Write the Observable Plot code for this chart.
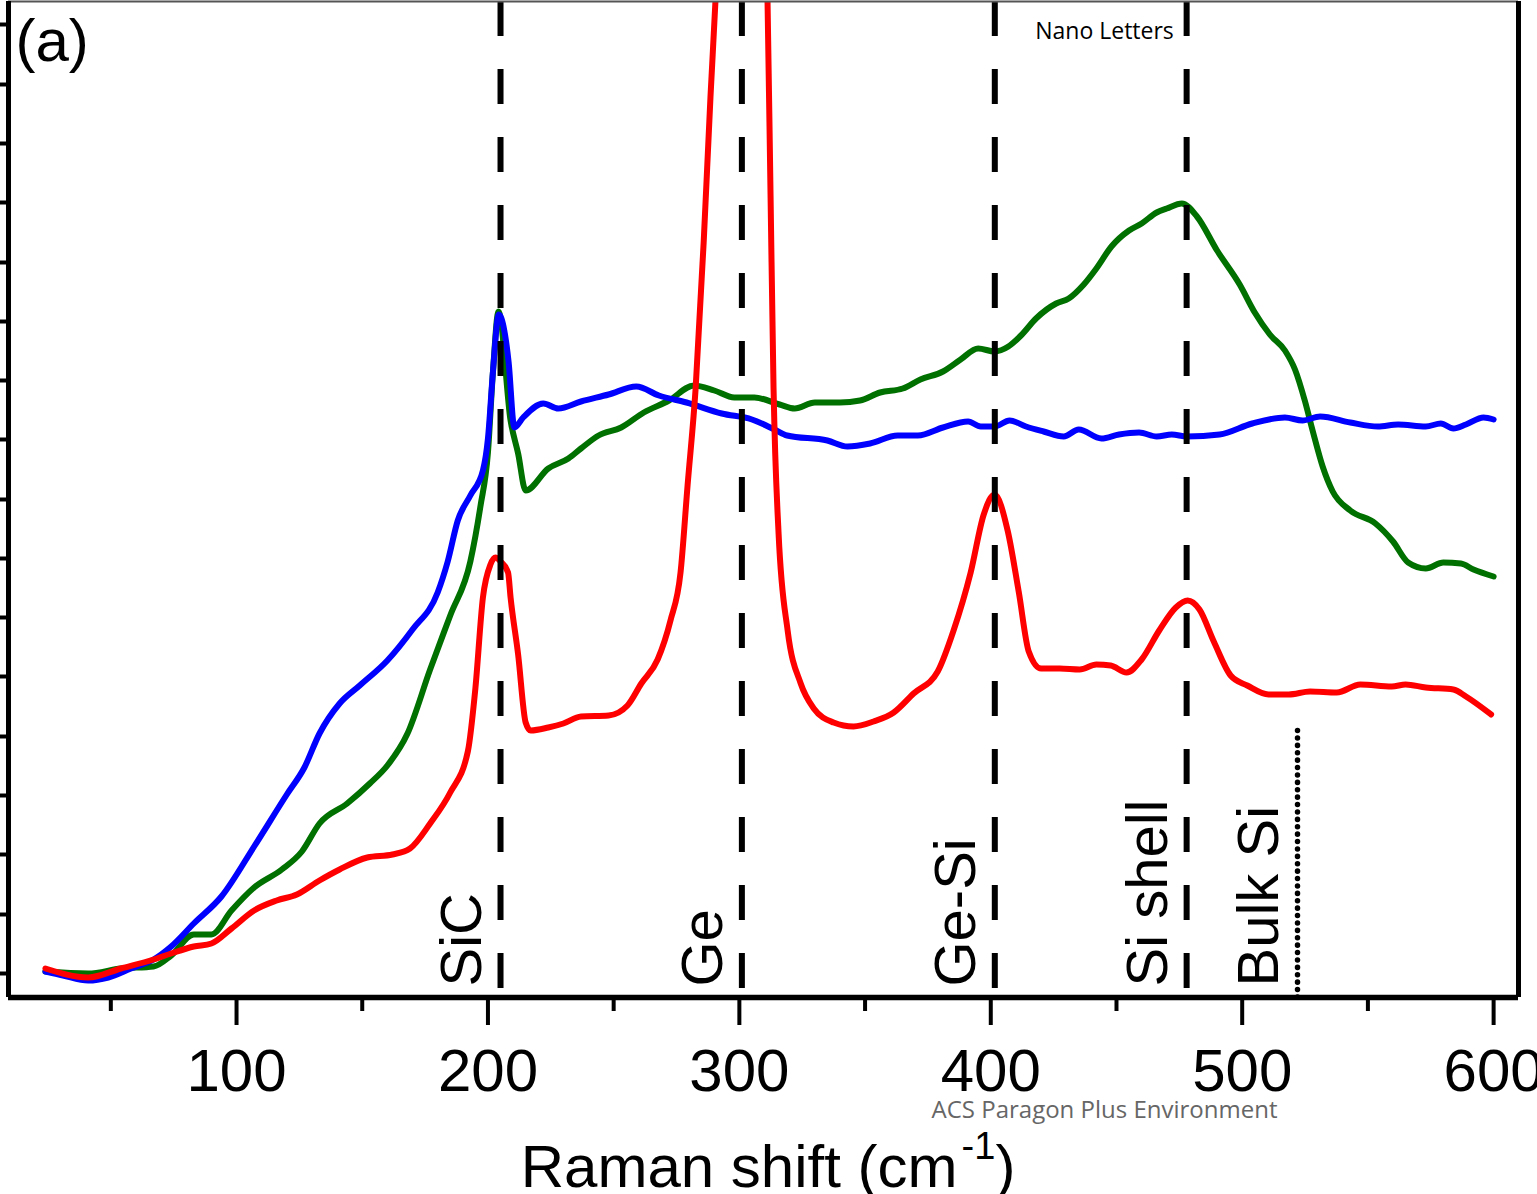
<!DOCTYPE html>
<html><head><meta charset="utf-8">
<script src="https://cdn.jsdelivr.net/npm/d3@7"></script>
<script src="https://cdn.jsdelivr.net/npm/@observablehq/plot@0.6"></script>
<style>body{margin:0;background:#fff;} #chart svg{display:block;}</style>
</head><body><div id="chart"></div>
<script>
// Raman shift (cm^-1) and intensity (a.u.)
const blueX = [24,31,41,49,58,67,74,83,94,107,120,127,133,141,149,160,170,180,184,188,193,198,200,202,204.3,206.5,208.2,210.5,214,222,228,237,248,259,268,279,293,305,314,319,335,343,352,363,371,381,391,396,401.5,407.5,414,421,429,435,444,451,459,466,472,478,491,504,517,524,531,543,554,562,573,579,584,589,596,600];
const blueY = [2,-2,-7,-4,5,14,27,50,77,127,179,206,240,270,288,313,344,381,412,453,478,503,535,602,659,643,612,546,556,570,565,572,579,587,578,571,560,554,544,538,533,527,530,538,538,546,552,547,547,553,547,542,537,544,535,539,541,537,539,537,539,550,556,553,557,551,547,549,547,550,545,549,556,554];

const greenX = [24,41,54,67,74,83,90,98,107,118,126,133,144,153,160,168,177,185,193,197,200,202,204.2,209,212,215,224,232,237,244,253,262,272,282,290,298,306,316,322,330,340,348,356,365,372,381,388,395,401.5,407,412,418,426,431,437,442,448,455,460,466,470,476,482,490,499,505,511,517,521,525,528,532,536,543,553,560,566,573,580,587,592,600];
const greenY = [2,0,5,7,18,39,39,63,86,104,122,150,170,190,208,240,304,358,412,467,521,602,662,553,520,483,505,515,525,538,546,561,573,588,583,576,576,569,565,571,571,573,581,585,594,602,614,625,622,627,638,655,670,675,689,705,727,743,750,761,765,770,757,723,689,661,639,623,604,572,543,507,482,463,450,432,411,405,411,410,404,397];

const redX = [24,41,54,67,74,83,90,98,107,116,124,133,141,152,162,169,177,185,192,195,198,201,203,205,208,209,212,215,217,224,230,237,248,255.5,261,267.5,272.6,276.6,279.4,282.6,285.8,288.5,290.5,293.5,297,301,305,308.5,311.2,312.4,313.6,315.6,319.2,324.4,329.6,337.5,345.4,353.4,361.4,369.3,378.9,385.2,392,397.2,401.5,406.7,411.1,415.1,420,427.4,435.4,442,447.7,454,460,467,473.6,478.3,483,488.7,495.4,502,510.5,518.5,527,537.6,547,559.5,565,573,584,589,599];
const redY = [5,-4,5,14,20,27,30,45,63,73,79,93,104,116,119,125,150,181,222,285,376,409,416,412,401,376,319,251,243,246,250,257,258,268,290,314,353,401,488,585,731,876,973,1150,1330,1420,1340,1150,973,779,585,440,343,290,265,251,247,252,261,280,302,343,401,459,479,443,382,322,305,305,304,309,308,301,314,343,366,373,364,332,298,288,279,279,282,281,289,287,289,286,284,277,259];

const xDomain = [9.3, 609.9];
const yDomain = [-24, 972];
const xMajorTicks = [100, 200, 300, 400, 500, 600];
const xMinorTicks = [50, 150, 250, 350, 450, 550];
const yTicks = [0, 59, 119, 178, 237, 297, 356, 415, 474, 534, 593, 652, 711, 771, 830, 889, 949];

const peakLabels = ["SiC", "Ge", "Ge-Si", "Si shell", "Bulk Si"];
const peakPositions = [205, 301, 401.6, 477.9, 522];
const dashedPositions = [205, 301, 401.6, 477.9];
const bulkSiPosition = [522];
const bulkSiTop = 243;

const toRows = (xs, ys) => xs.map((x, i) => ({shift: x, intensity: ys[i]}));
const green = toRows(greenX, greenY);
const blue = toRows(blueX, blueY);
const red = toRows(redX, redY);
const labelRows = peakLabels.map((t, i) => ({text: t, pos: peakPositions[i]}));

const font = "'Liberation Sans', Arial, Helvetica, sans-serif";
const chart = Plot.plot({
  width: 1537,
  height: 1194,
  marginLeft: 8,
  marginRight: 19,
  marginTop: 1,
  marginBottom: 197,
  x: {domain: xDomain, label: null},
  y: {domain: yDomain, label: null},
  style: {fontFamily: font, background: "white", color: "black", overflow: "visible"},
  marks: [
    Plot.line(green, {x: "shift", y: "intensity", stroke: "#007000", strokeWidth: 6, curve: "monotone-x", clip: true}),
    Plot.line(blue, {x: "shift", y: "intensity", stroke: "#0000ff", strokeWidth: 6, curve: "monotone-x", clip: true}),
    Plot.line(red, {x: "shift", y: "intensity", stroke: "#ff0000", strokeWidth: 6, curve: "monotone-x", clip: true}),
    Plot.ruleX(dashedPositions, {stroke: "black", strokeWidth: 6, strokeDasharray: "35,33"}),
    Plot.ruleX(bulkSiPosition, {y1: yDomain[0], y2: bulkSiTop, stroke: "black", strokeWidth: 5.5, strokeDasharray: "0.1,7.3", strokeLinecap: "round"}),
    Plot.text(labelRows, {x: "pos", text: "text", frameAnchor: "bottom", rotate: -90, textAnchor: "start", lineAnchor: "bottom", dx: -20, dy: -11, fontSize: 58, fill: "black"}),
    // frame
    Plot.ruleY([yDomain[1]], {stroke: "#555", strokeWidth: 2}),
    Plot.ruleX(xDomain, {stroke: "black", strokeWidth: 5}),
    Plot.ruleY([yDomain[0]], {stroke: "black", strokeWidth: 5.5}),
    // axes
    Plot.axisX(xMajorTicks, {anchor: "bottom", tickSize: 28, tickPadding: 23, strokeWidth: 4, fontSize: 60, tickFormat: d => String(d), label: null}),
    Plot.axisX(xMinorTicks, {anchor: "bottom", tickSize: 14, strokeWidth: 4, tickFormat: () => "", label: null}),
    Plot.axisY(yTicks, {anchor: "left", tickSize: 8, strokeWidth: 4, tickFormat: () => "", label: null}),
    // axis title
    Plot.text(["Raman shift (cm"], {text: d => d, frameAnchor: "bottom", textAnchor: "end", lineAnchor: "bottom", dx: 194, dy: 189, fontSize: 60}),
    Plot.text(["-1"], {text: d => d, frameAnchor: "bottom", textAnchor: "start", lineAnchor: "bottom", dx: 198, dy: 161, fontSize: 38}),
    Plot.text([")"], {text: d => d, frameAnchor: "bottom", textAnchor: "start", lineAnchor: "bottom", dx: 232, dy: 189, fontSize: 60}),
    // panel letter and page marks
    Plot.text(["(a)"], {text: d => d, frameAnchor: "top-left", textAnchor: "start", lineAnchor: "bottom", dx: 7, dy: 59, fontSize: 60}),
    Plot.text(["Nano Letters"], {text: d => d, frameAnchor: "top", textAnchor: "middle", lineAnchor: "bottom", dx: 341, dy: 37, fontSize: 23, fontFamily: "'Open Sans', 'Noto Sans', sans-serif", fill: "black"}),
    Plot.text(["ACS Paragon Plus Environment"], {text: d => d, frameAnchor: "bottom", textAnchor: "middle", lineAnchor: "bottom", dx: 341, dy: 120, fontSize: 24, fontFamily: "'Open Sans', 'Noto Sans', sans-serif", fill: "#666"})
  ]
});
document.getElementById("chart").appendChild(chart);
</script>
</body></html>
